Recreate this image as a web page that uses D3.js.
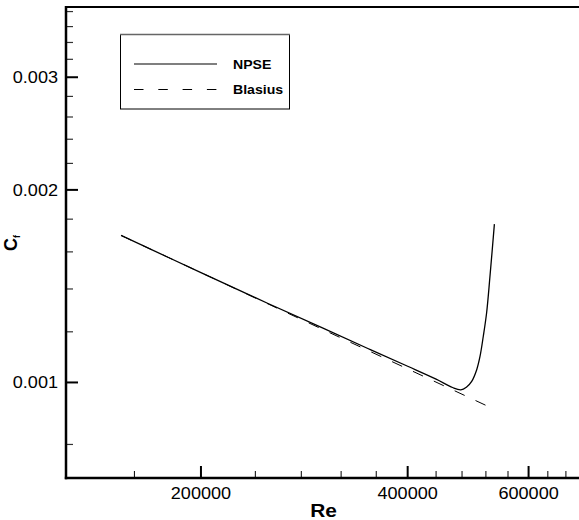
<!DOCTYPE html>
<html><head><meta charset="utf-8">
<script src="https://cdn.jsdelivr.net/npm/d3@7"></script>
<style>body{margin:0;background:#fff}svg{display:block}text{font-family:"Liberation Sans",Arial,sans-serif;fill:#000}</style>
</head><body><svg id="c" width="579" height="520"></svg>
<script>
// ---- data ----
const npseRe = [153000, 200000, 250000, 300000, 350000, 400000, 440000, 465000, 478000, 487000, 495800, 504200, 509800, 515400, 521200, 527100, 535000];
const npseCf = [0.0016975, 0.001485, 0.001330, 0.001218, 0.001130, 0.001060, 0.001012, 0.000982, 0.000974, 0.000983, 0.001004, 0.001047, 0.001098, 0.001180, 0.001284, 0.001464, 0.001768];
const blasRe = [153000, 200000, 300000, 400000, 521000];
const blasCf = [0.0016975, 0.001485, 0.001212, 0.001050, 0.000920];
const xMajor = [200000, 400000, 600000];
const xMajorLabels = ["200000", "400000", "600000"];
const xMinor = [160000, 240000, 280000, 320000, 360000, 440000, 480000, 520000, 560000, 640000, 680000];
const yMajor = [0.001, 0.002, 0.003];
const yMajorLabels = ["0.001", "0.002", "0.003"];
const yMinor = [0.0008, 0.0012, 0.0014, 0.0016, 0.0018, 0.0022, 0.0024, 0.0026, 0.0028, 0.0032, 0.0034, 0.0036, 0.0038];
const seriesNames = ["NPSE", "Blasius"];

// ---- layout ----
const L = 66, R = 582, T = 7, B = 478;
const SX = 1.13;
const svg = d3.select("#c");
const x = d3.scaleLog().domain([127200, 717700]).range([L, R]);
const y = d3.scaleLog().domain([0.000709, 0.003863]).range([B, T]);

svg.append("clipPath").attr("id","clip").append("rect").attr("x",L).attr("y",T).attr("width",R-L).attr("height",B-T);

const line = d3.line().x(d=>x(d[0])).y(d=>y(d[1])).curve(d3.curveCatmullRom.alpha(0.5));
const blas = blasRe.map((r,i)=>[r,blasCf[i]]);
const npse = npseRe.map((r,i)=>[r,npseCf[i]]);
svg.append("path").datum(blas).attr("d", d3.line().x(d=>x(d[0])).y(d=>y(d[1])))
  .attr("fill","none").attr("stroke","#000").attr("stroke-width",1).attr("stroke-dasharray","11,12")
  .attr("clip-path","url(#clip)");
svg.append("path").datum(npse).attr("d", line)
  .attr("fill","none").attr("stroke","#000").attr("stroke-width",1.3)
  .attr("clip-path","url(#clip)");

// minor ticks
svg.selectAll(".xm").data(xMinor).enter().append("line")
  .attr("x1",d=>x(d)).attr("x2",d=>x(d)).attr("y1",B).attr("y2",B-7)
  .attr("stroke","#000").attr("stroke-width",1);
svg.selectAll(".ym").data(yMinor).enter().append("line")
  .attr("y1",d=>y(d)).attr("y2",d=>y(d)).attr("x1",L).attr("x2",L+7)
  .attr("stroke","#333").attr("stroke-width",1.2);
// major ticks
svg.selectAll(".xM").data(xMajor).enter().append("line")
  .attr("x1",d=>x(d)).attr("x2",d=>x(d)).attr("y1",B).attr("y2",B-12)
  .attr("stroke","#000").attr("stroke-width",2);
svg.selectAll(".yM").data(yMajor).enter().append("line")
  .attr("y1",d=>y(d)).attr("y2",d=>y(d)).attr("x1",L).attr("x2",L+12)
  .attr("stroke","#000").attr("stroke-width",2);

// frame
svg.append("line").attr("x1",L).attr("x2",579).attr("y1",T).attr("y2",T).attr("stroke","#000").attr("stroke-width",2.2);
svg.append("line").attr("x1",L).attr("x2",L).attr("y1",T-1).attr("y2",B+1.2).attr("stroke","#000").attr("stroke-width",2.5);
svg.append("line").attr("x1",L-1.2).attr("x2",579).attr("y1",B).attr("y2",B).attr("stroke","#000").attr("stroke-width",2.5);

// tick labels
xMajor.forEach((v,i)=>{
  svg.append("text").attr("transform",`translate(${x(v)},498.5) scale(${SX},1)`)
    .attr("text-anchor","middle").attr("font-size",16).text(xMajorLabels[i]);
});
yMajor.forEach((v,i)=>{
  svg.append("text").attr("transform",`translate(58,${y(v)+6}) scale(${SX},1)`)
    .attr("text-anchor","end").attr("font-size",16).text(yMajorLabels[i]);
});

// axis titles
svg.append("text").attr("transform",`translate(323.5,517) scale(${SX},1)`)
  .attr("text-anchor","middle").attr("font-size",18.5).attr("font-weight","bold").text("Re");
const yt = svg.append("text").attr("transform","translate(17,243) rotate(-90)")
  .attr("text-anchor","middle").attr("font-weight","bold");
yt.append("tspan").attr("font-size",18).text("C");
yt.append("tspan").attr("font-size",9).attr("dy",3).text("f");

// legend
const lg = svg.append("g");
lg.append("rect").attr("x",120.5).attr("y",34.5).attr("width",169).attr("height",74.5)
  .attr("fill","#fff").attr("stroke","#000").attr("stroke-width",1);
lg.append("line").attr("x1",120).attr("x2",290).attr("y1",34.5).attr("y2",34.5).attr("stroke","#666").attr("stroke-width",1.6);
lg.append("line").attr("x1",134).attr("x2",217).attr("y1",64).attr("y2",64).attr("stroke","#000").attr("stroke-width",1.2);
lg.append("line").attr("x1",134).attr("x2",217).attr("y1",89.5).attr("y2",89.5).attr("stroke","#000").attr("stroke-width",1).attr("stroke-dasharray","9.5,14.8");
lg.append("text").attr("transform",`translate(233,68.5) scale(${SX},1)`).attr("font-size",12.5).attr("font-weight","bold").text(seriesNames[0]);
lg.append("text").attr("transform",`translate(233,94) scale(${SX},1)`).attr("font-size",12.5).attr("font-weight","bold").text(seriesNames[1]);
</script></body></html>
